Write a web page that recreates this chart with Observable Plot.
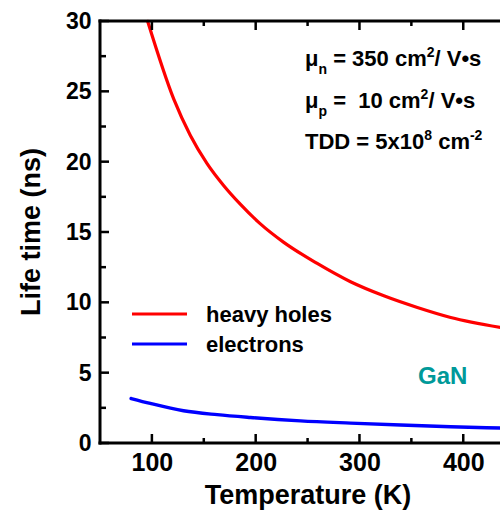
<!DOCTYPE html>
<html>
<head>
<meta charset="utf-8">
<script src="https://cdn.jsdelivr.net/npm/d3@7"></script>
<script src="https://cdn.jsdelivr.net/npm/@observablehq/plot@0.6"></script>
<style>
  html, body { margin: 0; padding: 0; background: #fff; }
  svg text { font-family: "Liberation Sans", Arial, sans-serif; font-weight: bold; }
</style>
</head>
<body>
<div id="chart"></div>
<script>
// ---- data ----
const holesT = [95.5, 120.5, 136.6, 152.7, 168.8, 184.9, 203.5, 226.6, 258.8, 290.9, 323, 355.3, 387.4, 435.6];
const holesTau = [30, 24.5, 21.9, 19.9, 18.33, 17.0, 15.65, 14.3, 12.8, 11.5, 10.5, 9.67, 8.96, 8.25];
const electronsT = [79.5, 98, 130, 162.4, 194.5, 242.7, 290.9, 339.1, 387.4, 435.6];
const electronsTau = [3.2, 2.85, 2.33, 2.05, 1.85, 1.61, 1.45, 1.31, 1.19, 1.10];

const xMajorTicks = [100, 200, 300, 400];
const xMinorTicks = [150, 250, 350];
const yMajorTicks = [0, 5, 10, 15, 20, 25, 30];
const yMinorTicks = [2.5, 7.5, 12.5, 17.5, 22.5, 27.5];

const seriesNames = ["heavy holes", "electrons"];
const seriesColors = ["#ff0000", "#0000ff"];
const materialLabel = "GaN";

const holes = holesT.map((t, i) => ({T: t, tau: holesTau[i]}));
const electrons = electronsT.map((t, i) => ({T: t, tau: electronsTau[i]}));

const W = 500, H = 513;
const mL = 100, mT = 21, mR = 0, mB = 70;
const font = "Liberation Sans, Arial, sans-serif";
const xDomain = [50, 435.4], yDomain = [0, 30];

const plot = Plot.plot({
  width: W, height: H,
  marginLeft: mL, marginTop: mT, marginRight: mR, marginBottom: mB,
  x: {domain: xDomain, axis: null},
  y: {domain: yDomain, axis: null},
  style: {background: "#fff", fontFamily: font},
  marks: [
    Plot.line(holes, {x: "T", y: "tau", stroke: seriesColors[0], strokeWidth: 3.2, curve: "monotone-x"}),
    Plot.line(electrons, {x: "T", y: "tau", stroke: seriesColors[1], strokeWidth: 3.4, curve: "monotone-x"}),
    Plot.text(xMajorTicks, {x: d => d, frameAnchor: "bottom", lineAnchor: "top", dy: 10, text: d => String(d), fontSize: 25, fontWeight: "bold", fill: "black"}),
    Plot.text(yMajorTicks, {y: d => d, frameAnchor: "left", textAnchor: "end", dx: -9, text: d => String(d), fontSize: 23, fontWeight: "bold", fill: "black"})
  ]
});

const svg = d3.select(plot);
const xs = plot.scale("x"), ys = plot.scale("y");
const fx = d3.scaleLinear(xs.domain, xs.range);
const fy = d3.scaleLinear(ys.domain, ys.range);
const x0 = fx(xDomain[0]), x1 = fx(xDomain[1]);
const yB = fy(yDomain[0]), yT = fy(yDomain[1]);

// frame and inward ticks as filled rectangles, placed with the plot's scales
const axisG = svg.append("g").attr("class", "frame");
function bar(x, y, w, h) {
  axisG.append("rect").attr("x", x).attr("y", y).attr("width", w).attr("height", h)
    .attr("fill", "black").style("fill", "black");
}
bar(x0 - 1.5, yT - 1.5, 3, yB - yT + 3);           // left
bar(x0 - 1.5, yB - 1.5, x1 - x0 + 3, 3);           // bottom
bar(x0 - 1.5, yT - 1.5, x1 - x0 + 3, 3);           // top
xMajorTicks.forEach(v => { const p = fx(v); bar(p - 1.25, yB - 9, 2.5, 9); bar(p - 1.25, yT, 2.5, 9); });
xMinorTicks.forEach(v => { const p = fx(v); bar(p - 1.25, yB - 5, 2.5, 5); bar(p - 1.25, yT, 2.5, 5); });
yMajorTicks.forEach(v => { const p = fy(v); bar(x0, p - 1.25, 9, 2.5); });
yMinorTicks.forEach(v => { const p = fy(v); bar(x0, p - 1.25, 6, 2.5); });

const txt = (x, y, size, anchor) => svg.append("text")
  .attr("x", x).attr("y", y)
  .attr("font-family", font).attr("font-weight", "bold")
  .attr("font-size", size).attr("text-anchor", anchor || "start")
  .attr("fill", "black").style("white-space", "pre");

// axis titles
txt(308, 504, 27, "middle").text("Temperature (K)");
txt(0, 0, 27, "middle").attr("transform", "translate(40,232) rotate(-90)").text("Life time (ns)");

// annotation block
function richLine(x, y, parts) {
  const t = txt(x, y, 22);
  parts.forEach(p => {
    const s = t.append("tspan").text(p.s);
    if (p.sub) s.attr("font-size", 14).attr("dy", 8);
    if (p.sup) s.attr("font-size", 14).attr("dy", -9);
    if (p.back) s.attr("dy", p.back);
  });
  return t;
}
richLine(305, 66, [
  {s: "μ"}, {s: "n", sub: true}, {s: " = 350 cm", back: -8}, {s: "2", sup: true}, {s: "/ V•s", back: 9}
]);
richLine(305, 108, [
  {s: "μ"}, {s: "p", sub: true}, {s: " =  10 cm", back: -8}, {s: "2", sup: true}, {s: "/ V•s", back: 9}
]);
richLine(305, 149, [
  {s: "TDD = 5x10"}, {s: "8", sup: true}, {s: " cm", back: 9}, {s: "-2", sup: true}
]);

// legend
const legendY = [314, 344];
seriesNames.forEach((name, i) => {
  svg.append("line").attr("x1", 132).attr("x2", 187)
    .attr("y1", legendY[i]).attr("y2", legendY[i])
    .attr("stroke", seriesColors[i]).attr("stroke-width", 3.2);
  txt(206, legendY[i] + 7.5, 22).text(name);
});

// material label
txt(418, 384, 24).attr("fill", "#009999").text(materialLabel);

document.getElementById("chart").appendChild(plot);
</script>
</body>
</html>
